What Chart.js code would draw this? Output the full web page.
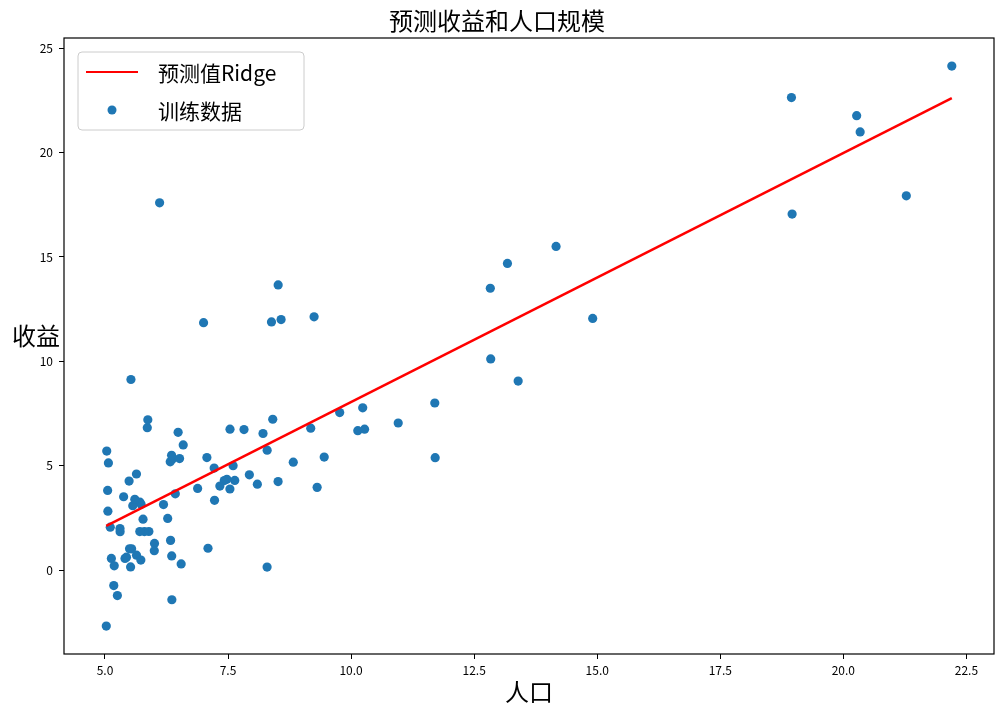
<!DOCTYPE html>
<html>
<head>
<meta charset="utf-8">
<script src="https://cdn.jsdelivr.net/npm/chart.js@4"></script>
<style>
  body { margin: 0; background: #fff; }
  #wrap { width: 1004px; height: 714px; }
</style>
</head>
<body>
<div id="wrap"><canvas id="chart"></canvas></div>
<script>
// training data: population (x) and profit (y)
const popX = [6.1101,5.5277,8.5186,7.0032,5.8598,8.3829,7.4764,8.5781,6.4862,5.0546,
  5.7107,14.164,5.734,8.4084,5.6407,5.3794,6.3654,5.1301,6.4296,7.0708,
  6.1891,20.27,5.4901,6.3261,5.5649,18.945,12.828,10.957,13.176,22.203,
  5.2524,6.5894,9.2482,5.8918,8.2111,7.9334,8.0959,5.6063,12.836,6.3534,
  5.4069,6.8825,11.708,5.7737,7.8247,7.0931,5.0702,5.8014,11.7,5.5416,
  7.5402,5.3077,7.4239,7.6031,6.3328,6.3589,6.2742,5.6397,9.3102,9.4536,
  8.8254,5.1793,21.279,14.908,18.959,7.2182,8.2951,10.236,5.4994,20.341,
  10.136,7.3345,6.0062,7.2259,5.0269,6.5479,7.5386,5.0365,10.274,5.1077,
  5.7292,5.1884,6.3557,9.7687,6.5159,8.5172,9.1802,6.002,5.5204,5.0594,
  5.7077,7.6366,5.8707,5.3054,8.2934,13.394,5.4369];
const profitY = [17.592,9.1302,13.662,11.854,6.8233,11.886,4.3483,12,6.5987,3.8166,
  3.2522,15.505,3.1551,7.2258,0.71618,3.5129,5.3048,0.56077,3.6518,5.3893,
  3.1386,21.767,4.263,5.1875,3.0825,22.638,13.501,7.0467,14.692,24.147,
  -1.22,5.9966,12.134,1.8495,6.5426,4.5623,4.1164,3.3928,10.117,5.4974,
  0.55657,3.9115,5.3854,2.4406,6.7318,1.0463,5.1337,1.844,8.0043,1.0179,
  6.7504,1.8396,4.2885,4.9981,1.4233,-1.4211,2.4756,4.6042,3.9624,5.4141,
  5.1694,-0.74279,17.929,12.054,17.054,4.8852,5.7442,7.7754,1.0173,20.992,
  6.6799,4.0259,1.2784,3.3411,-2.6807,0.29678,3.8845,5.7014,6.7526,2.0576,
  0.47953,0.20421,0.67861,7.5435,5.3436,4.2415,6.7981,0.92695,0.152,2.8214,
  1.8451,4.2959,7.2029,1.9869,0.14454,9.0551,0.61705];

// Ridge prediction line, ends
const lineX = [5.0269, 22.203];
const lineY = [2.12, 22.61];

const xTicks = [5, 7.5, 10, 12.5, 15, 17.5, 20, 22.5];
const yTicks = [0, 5, 10, 15, 20, 25];

const cjk = '"Noto Sans CJK SC", "DejaVu Sans", sans-serif';

const boxAndLabels = {
  id: 'boxAndLabels',
  afterDraw(chart) {
    const ctx = chart.ctx;
    const a = chart.chartArea;
    ctx.save();
    // frame on all four sides
    ctx.strokeStyle = '#000';
    ctx.lineWidth = 1.2;
    ctx.strokeRect(a.left, a.top, a.right - a.left, a.bottom - a.top);

    // horizontal y label
    ctx.fillStyle = '#000';
    ctx.font = '24px ' + cjk;
    ctx.textAlign = 'center';
    ctx.textBaseline = 'middle';
    ctx.fillText('收益', 36, 336);

    // legend box
    ctx.beginPath();
    ctx.roundRect(78, 52, 226, 78, 4);
    ctx.fillStyle = 'rgba(255,255,255,0.8)';
    ctx.fill();
    ctx.strokeStyle = '#cccccc';
    ctx.lineWidth = 1;
    ctx.stroke();

    const ds = chart.data.datasets;
    ctx.strokeStyle = ds[0].borderColor;
    ctx.lineWidth = 2;
    ctx.beginPath();
    ctx.moveTo(86, 72);
    ctx.lineTo(138, 72);
    ctx.stroke();

    ctx.fillStyle = ds[1].backgroundColor;
    ctx.beginPath();
    ctx.arc(112, 110, 4.5, 0, Math.PI * 2);
    ctx.fill();

    ctx.fillStyle = '#000';
    ctx.font = '21px ' + cjk;
    ctx.textAlign = 'left';
    ctx.fillText(ds[0].label, 158, 73);
    ctx.fillText(ds[1].label, 158, 111);
    ctx.restore();
  }
};

new Chart(document.getElementById('chart'), {
  type: 'scatter',
  data: {
    datasets: [
      {
        label: '预测值Ridge',
        data: lineX.map((x, k) => ({x: x, y: lineY[k]})),
        showLine: true,
        borderColor: '#ff0000',
        borderWidth: 2.5,
        pointRadius: 0,
        fill: false
      },
      {
        label: '训练数据',
        data: popX.map((x, k) => ({x: x, y: profitY[k]})),
        backgroundColor: '#1f77b4',
        borderWidth: 0,
        pointRadius: 4.6
      }
    ]
  },
  options: {
    responsive: true,
    maintainAspectRatio: false,
    animation: false,
    layout: { padding: { left: 0, right: 10, top: 0, bottom: 0 } },
    plugins: {
      legend: { display: false },
      tooltip: { enabled: false },
      title: {
        display: true,
        text: '预测收益和人口规模',
        color: '#000',
        font: { family: cjk, size: 24, weight: 'normal' },
        padding: { top: 6, bottom: 3.2 }
      }
    },
    scales: {
      x: {
        type: 'linear',
        min: 4.168,
        max: 23.06,
        afterBuildTicks: s => { s.ticks = xTicks.map(v => ({value: v})); },
        afterFit: s => { s.height = 60; },
        grid: { display: true, drawOnChartArea: false, drawTicks: true, tickLength: 5, tickColor: '#000' },
        border: { display: false },
        ticks: {
          color: '#000',
          padding: 4,
          maxRotation: 0,
          font: { family: cjk, size: 12 },
          callback: v => v.toFixed(1)
        },
        title: {
          display: true,
          text: '人口',
          color: '#000',
          font: { family: cjk, size: 24 },
          padding: { top: 0, bottom: 7.6 }
        }
      },
      y: {
        type: 'linear',
        min: -4.02,
        max: 25.49,
        afterBuildTicks: s => { s.ticks = yTicks.map(v => ({value: v})); },
        afterFit: s => { s.width = 64; },
        grid: { display: true, drawOnChartArea: false, drawTicks: true, tickLength: 5, tickColor: '#000' },
        border: { display: false },
        ticks: {
          color: '#000',
          padding: 6,
          font: { family: cjk, size: 12 },
          callback: v => String(v)
        }
      }
    }
  },
  plugins: [boxAndLabels]
});
</script>
</body>
</html>
